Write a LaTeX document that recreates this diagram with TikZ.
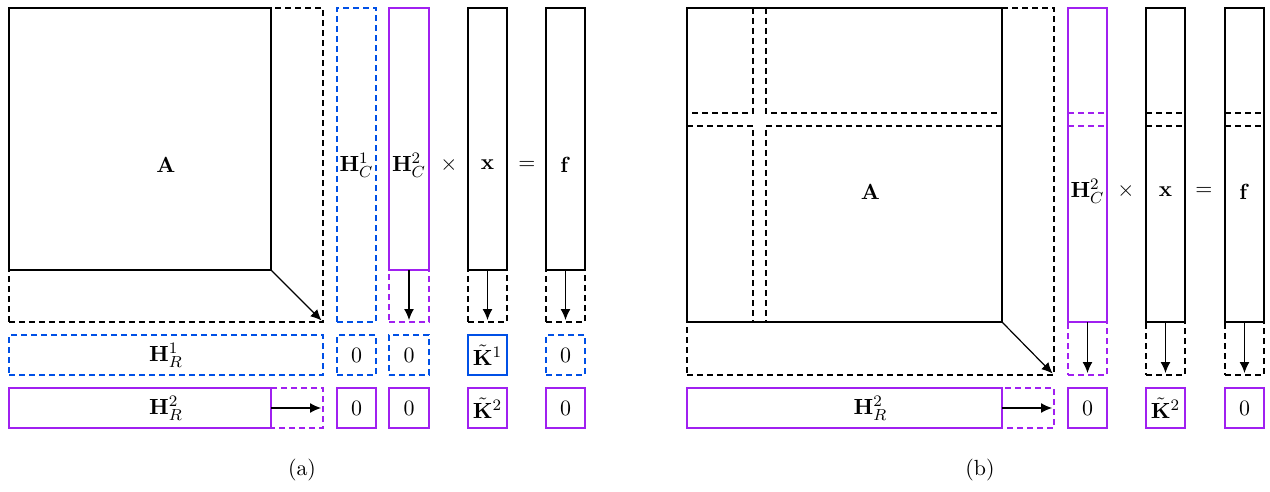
\documentclass[11pt,tikz,border=0pt]{standalone}
\usetikzlibrary{arrows.meta}
\definecolor{hblue}{RGB}{0,80,230}
\definecolor{hpurple}{RGB}{160,32,240}
% box node from corner (x1,y1) to (x2,y2), in pixel-like units
\newcommand\bx[7]{\node[#2,minimum width={(#5-#3)*0.5pt},minimum height={(#6-#4)*0.5pt}] (#1) at ({(#3+#5)/2},{(#4+#6)/2}) {#7};}
\tikzset{
  matbox/.style={draw,rectangle,inner sep=0pt,outer sep=0pt,line width=1.05pt},
  dshbox/.style={matbox,dash pattern=on 3pt off 2pt},
  extarrow/.style={-{Latex[length=5.5pt,width=5pt]},line width=0.6pt,shorten >=1pt},
  cutline/.style={line width=1.05pt,dash pattern=on 3pt off 2pt},
  opnode/.style={inner sep=0pt}
}
\begin{document}
\begin{tikzpicture}[x=0.5pt,y=-0.5pt]
\useasboundingbox (0,0) rectangle (1270,492);

%% ---------- (a) ----------
\bx{Aext}{dshbox}{9}{8}{323}{322}{$\mathbf{A}$}
\bx{A}{matbox}{9}{8}{271}{270}{}
\draw[extarrow] (A.south east) -- (Aext.south east);

\bx{HC1}{dshbox,draw=hblue}{337}{8}{376}{322}{$\mathbf{H}_C^1$}

\bx{HC2ext}{dshbox,draw=hpurple}{389}{8}{429}{322}{$\mathbf{H}_C^2$}
\bx{HC2}{matbox,draw=hpurple}{389}{8}{429}{270}{}
\draw[extarrow] (HC2.south) -- (HC2ext.south);

\node[opnode] (times) at (449,165) {$\times$};

\bx{xext}{dshbox}{468}{8}{507}{322}{$\mathbf{x}$}
\bx{x}{matbox}{468}{8}{507}{270}{}
\draw[extarrow] (x.south) -- (xext.south);

\node[opnode] (eq) at (527,165) {$=$};

\bx{fext}{dshbox}{546}{8}{585}{322}{$\mathbf{f}$}
\bx{f}{matbox}{546}{8}{585}{270}{}
\draw[extarrow] (f.south) -- (fext.south);

% first constraint row
\bx{HR1}{dshbox,draw=hblue}{9}{335}{323}{375}{$\mathbf{H}_R^1$}
\bx{z11}{dshbox,draw=hblue}{337}{335}{376}{375}{$0$}
\bx{z12}{dshbox,draw=hblue}{389}{335}{429}{375}{$0$}
\bx{K1}{matbox,draw=hblue}{468}{335}{507}{375}{$\tilde{\mathbf{K}}^1$}
\bx{z13}{dshbox,draw=hblue}{546}{335}{585}{375}{$0$}

% second constraint row
\bx{HR2ext}{dshbox,draw=hpurple}{9}{388}{323}{428}{$\mathbf{H}_R^2$}
\bx{HR2}{matbox,draw=hpurple}{9}{388}{271}{428}{}
\draw[extarrow] (HR2.east) -- (HR2ext.east);
\bx{z21}{matbox,draw=hpurple}{337}{388}{376}{428}{$0$}
\bx{z22}{matbox,draw=hpurple}{389}{388}{429}{428}{$0$}
\bx{K2}{matbox,draw=hpurple}{468}{388}{507}{428}{$\tilde{\mathbf{K}}^2$}
\bx{z23}{matbox,draw=hpurple}{546}{388}{585}{428}{$0$}

\node (capa) at (302,470) {(a)};

%% ---------- (b) ----------
\bx{Bext}{dshbox}{687}{8}{1054}{375}{$\mathbf{A}$}
\bx{B}{matbox}{687}{8}{1002}{322}{}
\draw[extarrow] (B.south east) -- (Bext.south east);
% removed first block row and column
\draw[cutline] (753,8) -- (753,113) -- (687,113);
\draw[cutline] (766,8) -- (766,113) -- (1002,113);
\draw[cutline] (687,126) -- (753,126) -- (753,322);
\draw[cutline] (1002,126) -- (766,126) -- (766,322);

\bx{GC2ext}{dshbox,draw=hpurple}{1068}{8}{1107}{375}{$\mathbf{H}_C^2$}
\bx{GC2}{matbox,draw=hpurple}{1068}{8}{1107}{322}{}
\draw[cutline,hpurple] (GC2.west |- 0,113) -- (GC2.east |- 0,113);
\draw[cutline,hpurple] (GC2.west |- 0,126) -- (GC2.east |- 0,126);
\draw[extarrow] (GC2.south) -- (GC2ext.south);

\node[opnode] (timesb) at (1126,191) {$\times$};

\bx{yext}{dshbox}{1146}{8}{1185}{375}{$\mathbf{x}$}
\bx{y}{matbox}{1146}{8}{1185}{322}{}
\draw[cutline] (y.west |- 0,113) -- (y.east |- 0,113);
\draw[cutline] (y.west |- 0,126) -- (y.east |- 0,126);
\draw[extarrow] (y.south) -- (yext.south);

\node[opnode] (eqb) at (1204,191) {$=$};

\bx{gext}{dshbox}{1225}{8}{1264}{375}{$\mathbf{f}$}
\bx{g}{matbox}{1225}{8}{1264}{322}{}
\draw[cutline] (g.west |- 0,113) -- (g.east |- 0,113);
\draw[cutline] (g.west |- 0,126) -- (g.east |- 0,126);
\draw[extarrow] (g.south) -- (gext.south);

\bx{GR2ext}{dshbox,draw=hpurple}{687}{388}{1054}{428}{$\mathbf{H}_R^2$}
\bx{GR2}{matbox,draw=hpurple}{687}{388}{1002}{428}{}
\draw[extarrow] (GR2.east) -- (GR2ext.east);
\bx{w21}{matbox,draw=hpurple}{1068}{388}{1107}{428}{$0$}
\bx{L2}{matbox,draw=hpurple}{1146}{388}{1185}{428}{$\tilde{\mathbf{K}}^2$}
\bx{w23}{matbox,draw=hpurple}{1225}{388}{1264}{428}{$0$}

\node (capb) at (980,470) {(b)};
\end{tikzpicture}
\end{document}
